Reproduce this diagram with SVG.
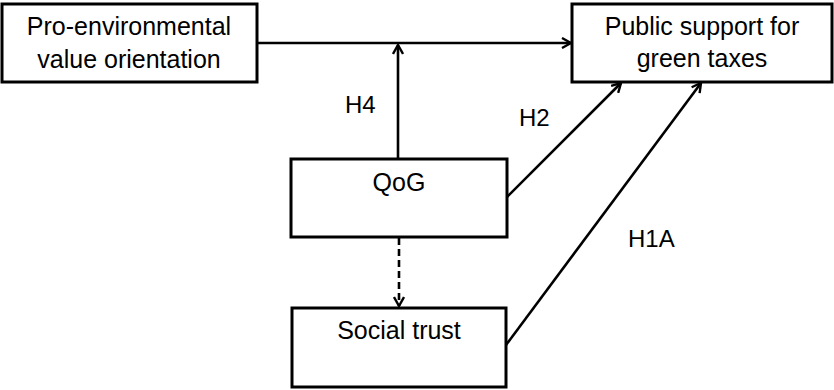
<svg xmlns="http://www.w3.org/2000/svg" width="834" height="390" viewBox="0 0 834 390">
<style>
.box{fill:#fff;stroke:#000;stroke-width:3}
.t{font-family:"Liberation Sans",Arial,sans-serif;font-size:25px;fill:#000;text-anchor:middle}
.l{font-family:"Liberation Sans",Arial,sans-serif;font-size:24px;fill:#000}
.c{fill:none;stroke:#000;stroke-width:2.6}
</style>
<defs>
<marker id="ah" viewBox="0 0 12 12" refX="11" refY="6" markerWidth="12" markerHeight="12" markerUnits="userSpaceOnUse" orient="auto">
<path d="M2,1 L11,6 L2,11" fill="none" stroke="#000" stroke-width="2.4"/>
</marker>
</defs>
<g id="n1"><rect class="box" x="2" y="4" width="255" height="78"/>
<text class="t" x="129" y="35">Pro-environmental</text>
<text class="t" x="129" y="68">value orientation</text></g>
<g id="n2"><rect class="box" x="572" y="4" width="260" height="78"/>
<text class="t" x="702" y="35">Public support for</text>
<text class="t" x="702" y="67">green taxes</text></g>
<g id="n3"><rect class="box" x="291" y="159" width="216" height="78"/>
<text class="t" x="399" y="191">QoG</text></g>
<g id="n4"><rect class="box" x="292" y="308" width="214" height="79"/>
<text class="t" x="399" y="339">Social trust</text></g>
<g id="connectors">
<line class="c" x1="257" y1="43" x2="571" y2="43" marker-end="url(#ah)"/>
<line class="c" x1="398" y1="158" x2="398" y2="45" marker-end="url(#ah)"/>
<line class="c" x1="399" y1="238" x2="399" y2="306" stroke-dasharray="7,4" marker-end="url(#ah)"/>
<line class="c" x1="507" y1="197" x2="621" y2="83" marker-end="url(#ah)"/>
<line class="c" x1="506" y1="345" x2="701" y2="83" marker-end="url(#ah)"/>
<text class="l" x="345" y="113">H4</text>
<text class="l" x="519" y="126">H2</text>
<text class="l" x="628" y="247">H1A</text>
</g>
</svg>
